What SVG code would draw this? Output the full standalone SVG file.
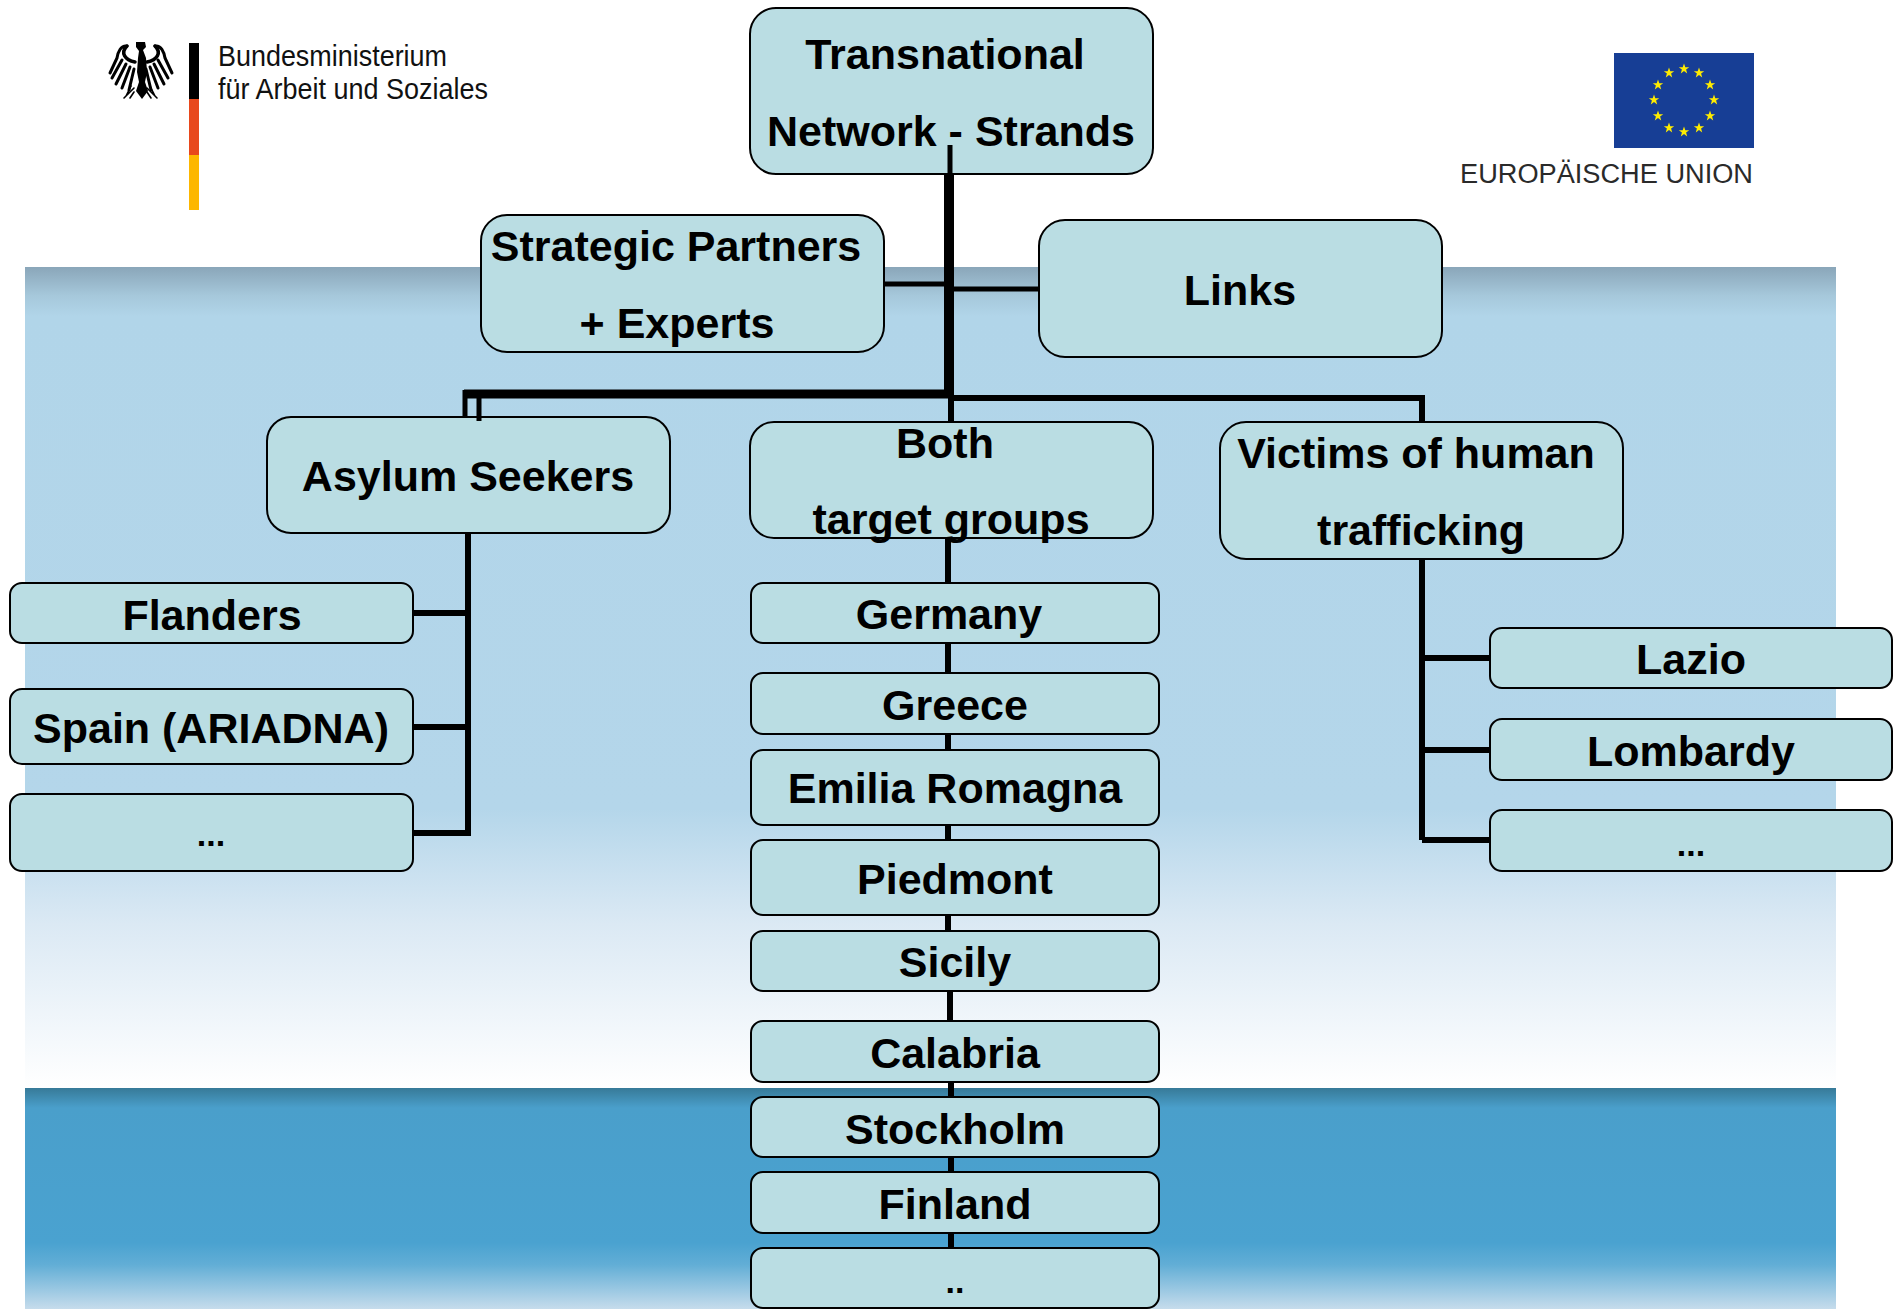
<svg xmlns="http://www.w3.org/2000/svg" xmlns:xlink="http://www.w3.org/1999/xlink" width="1896" height="1309" viewBox="0 0 1896 1309">
<style>
.n{fill:#badde3;stroke:#000;stroke-width:2}
.t{font-family:"Liberation Sans",Arial,sans-serif;font-weight:700;font-size:43px;fill:#000;text-anchor:middle}
.d{font-size:34px}
.c{stroke:#000;fill:none;stroke-linecap:butt}
.logo{font-family:"Liberation Sans",Arial,sans-serif}
</style>
<defs>
<linearGradient id="bg1" x1="0" y1="0" x2="0" y2="1">
<stop offset="0" stop-color="#8aa6b9"/><stop offset="0.035" stop-color="#a6c8db"/><stop offset="0.06" stop-color="#b1d5e9"/><stop offset="0.66" stop-color="#b4d6ea"/><stop offset="0.8" stop-color="#dbe9f4"/><stop offset="1" stop-color="#ffffff"/>
</linearGradient>
<linearGradient id="bg2" x1="0" y1="0" x2="0" y2="1">
<stop offset="0" stop-color="#377a98"/><stop offset="0.09" stop-color="#4a9fcb"/><stop offset="0.7" stop-color="#4aa2d0"/><stop offset="0.8" stop-color="#62aed6"/><stop offset="1" stop-color="#c6dcec"/>
</linearGradient>
<polygon id="star" points="0,-5.5 1.3,-1.7 5.2,-1.7 2.1,0.6 3.2,4.5 0,2.1 -3.2,4.5 -2.1,0.6 -5.2,-1.7 -1.3,-1.7" fill="#ffec00"/>
</defs>
<rect width="1896" height="1309" fill="#fff"/>
<rect x="25" y="267" width="1811" height="821" fill="url(#bg1)"/>
<rect x="25" y="1088" width="1811" height="221" fill="url(#bg2)"/>

<g id="logo-bmas">
<g id="eagle">
<path fill="#000" d="M136 42h9l1 5-3 3 3 8 1 14-2 10 3 9-6 8-6-8 3-9-2-10 1-14 1-7-3-4z"/>
<g fill="none" stroke="#000" stroke-linecap="round">
<path stroke-width="3.5" d="M135 62C125 60 120 53 127 46M147 62C157 60 162 53 155 46"/>
<path stroke-width="3" d="M127 46C121 45 118 52 117 58L110 73M155 46C161 45 164 52 165 58L172 73"/>
<path stroke-width="3" d="M122 60L112 78M126 64L116 84M130 67L122 88M134 69L129 90M158 60L168 78M154 64L164 84M150 67L158 88M146 69L151 90"/>
<path stroke-width="1.6" d="M134 88L124 98M131 86L126 96M134 92L130 98M147 88L157 98M150 86L155 96M147 92L151 98"/>
</g>
</g>
<rect x="189" y="43" width="10" height="56" fill="#000"/>
<rect x="189" y="99" width="10" height="56" fill="#e8481c"/>
<rect x="189" y="155" width="10" height="55" fill="#fdb700"/>
<text class="logo" x="218" y="66" font-size="30" fill="#111" textLength="229" lengthAdjust="spacingAndGlyphs">Bundesministerium</text>
<text class="logo" x="218" y="99" font-size="30" fill="#111" textLength="270" lengthAdjust="spacingAndGlyphs">für Arbeit und Soziales</text>
</g>

<g id="logo-eu">
<rect x="1614" y="53" width="140" height="95" fill="#173e95"/>
<use xlink:href="#star" href="#star" x="1684" y="69"/>
<use xlink:href="#star" href="#star" x="1699" y="73"/>
<use xlink:href="#star" href="#star" x="1710" y="85"/>
<use xlink:href="#star" href="#star" x="1714" y="100"/>
<use xlink:href="#star" href="#star" x="1710" y="116"/>
<use xlink:href="#star" href="#star" x="1699" y="128"/>
<use xlink:href="#star" href="#star" x="1684" y="132"/>
<use xlink:href="#star" href="#star" x="1669" y="128"/>
<use xlink:href="#star" href="#star" x="1658" y="116"/>
<use xlink:href="#star" href="#star" x="1654" y="100"/>
<use xlink:href="#star" href="#star" x="1658" y="85"/>
<use xlink:href="#star" href="#star" x="1669" y="73"/>
<text class="logo" x="1460" y="183" font-size="27" fill="#2a2a2a" textLength="293" lengthAdjust="spacingAndGlyphs">EUROPÄISCHE UNION</text>
</g>

<g id="n-transnational"><rect class="n" x="750" y="8" width="403" height="166" rx="26"/><text class="t" x="945" y="69">Transnational</text><text class="t" x="951" y="146">Network - Strands</text></g>
<g id="n-strategic"><rect class="n" x="481" y="215" width="403" height="137" rx="26"/><text class="t" x="676" y="261">Strategic Partners</text><text class="t" x="677" y="338">+ Experts</text></g>
<g id="n-links"><rect class="n" x="1039" y="220" width="403" height="137" rx="26"/><text class="t" x="1240" y="305">Links</text></g>
<g id="n-asylum"><rect class="n" x="267" y="417" width="403" height="116" rx="24"/><text class="t" x="468" y="491">Asylum Seekers</text></g>
<g id="n-both"><rect class="n" x="750" y="422" width="403" height="116" rx="24"/><text class="t" x="945" y="458">Both</text><text class="t" x="951" y="534">target groups</text></g>
<g id="n-victims"><rect class="n" x="1220" y="422" width="403" height="137" rx="26"/><text class="t" x="1416" y="468">Victims of human</text><text class="t" x="1421" y="545">trafficking</text></g>
<g id="n-flanders"><rect class="n" x="10" y="583" width="403" height="60" rx="12"/><text class="t" x="212" y="630">Flanders</text></g>
<g id="n-spain"><rect class="n" x="10" y="689" width="403" height="75" rx="12"/><text class="t" x="211" y="743">Spain (ARIADNA)</text></g>
<g id="n-asylum-more"><rect class="n" x="10" y="794" width="403" height="77" rx="12"/><text class="t d" x="211" y="846">...</text></g>
<g id="n-germany"><rect class="n" x="751" y="583" width="408" height="60" rx="12"/><text class="t" x="949" y="629">Germany</text></g>
<g id="n-greece"><rect class="n" x="751" y="673" width="408" height="61" rx="12"/><text class="t" x="955" y="720">Greece</text></g>
<g id="n-emilia"><rect class="n" x="751" y="750" width="408" height="75" rx="12"/><text class="t" x="955" y="803">Emilia Romagna</text></g>
<g id="n-piedmont"><rect class="n" x="751" y="840" width="408" height="75" rx="12"/><text class="t" x="955" y="894">Piedmont</text></g>
<g id="n-sicily"><rect class="n" x="751" y="931" width="408" height="60" rx="12"/><text class="t" x="955" y="977">Sicily</text></g>
<g id="n-calabria"><rect class="n" x="751" y="1021" width="408" height="61" rx="12"/><text class="t" x="955" y="1068">Calabria</text></g>
<g id="n-stockholm"><rect class="n" x="751" y="1097" width="408" height="60" rx="12"/><text class="t" x="955" y="1144">Stockholm</text></g>
<g id="n-finland"><rect class="n" x="751" y="1172" width="408" height="61" rx="12"/><text class="t" x="955" y="1219">Finland</text></g>
<g id="n-more"><rect class="n" x="751" y="1248" width="408" height="60" rx="12"/><text class="t d" x="955" y="1293">..</text></g>
<g id="n-lazio"><rect class="n" x="1490" y="628" width="402" height="60" rx="12"/><text class="t" x="1691" y="674">Lazio</text></g>
<g id="n-lombardy"><rect class="n" x="1490" y="719" width="402" height="61" rx="12"/><text class="t" x="1691" y="766">Lombardy</text></g>
<g id="n-victims-more"><rect class="n" x="1490" y="810" width="402" height="61" rx="12"/><text class="t d" x="1691" y="856">...</text></g>

<g id="connectors">
<path class="c" stroke-width="5" d="M950 145V176"/>
<path class="c" stroke-width="10" d="M949 174V398"/>
<path class="c" stroke-width="5" d="M884 284H949M949 289H1039"/>
<path class="c" stroke-width="9" d="M949 394H464"/>
<path class="c" stroke-width="5" d="M465 390V417M479 394V421"/>
<path class="c" stroke-width="6" d="M949 398H1422V422"/>
<path class="c" stroke-width="6" d="M951 398V422"/>
<path class="c" stroke-width="6" d="M468 533V836M413 613H468M413 727H468M413 833H471"/>
<path class="c" stroke-width="6" d="M948 538V583M948 643V673M948 734V750M948 825V840M948 915V931M950 991V1021M951 1082V1097M951 1157V1172M951 1233V1248"/>
<path class="c" stroke-width="6" d="M1422 559V840M1422 658H1490M1422 750H1490M1422 840H1490"/>
</g>
</svg>
